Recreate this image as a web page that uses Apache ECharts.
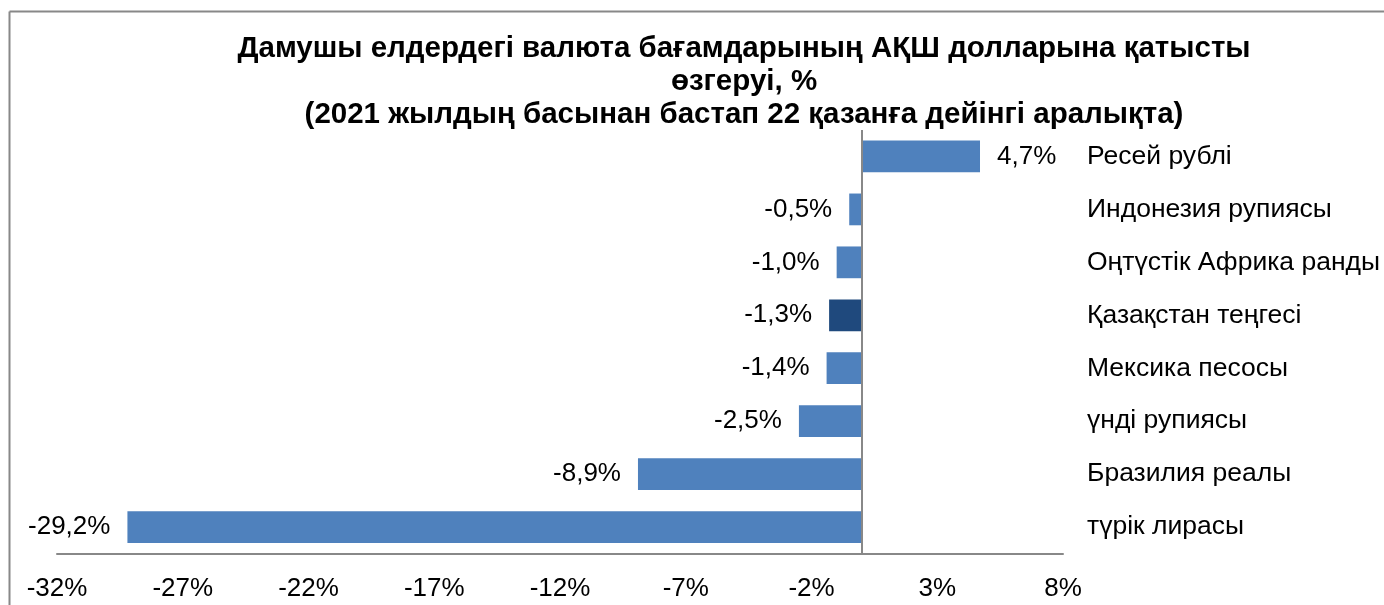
<!DOCTYPE html>
<html>
<head>
<meta charset="utf-8">
<script src="https://cdn.jsdelivr.net/npm/echarts@6/dist/echarts.min.js"></script>
<style>
html,body{margin:0;padding:0;background:#fff;}
#chart{width:1384px;height:605px;}
</style>
</head>
<body>
<div id="chart"></div>
<script>
const titleText = 'Дамушы елдердегі валюта бағамдарының АҚШ долларына қатысты\nөзгеруі, %\n(2021 жылдың басынан бастап 22 қазанға дейінгі аралықта)';
const categories = ['Ресей рублі','Индонезия рупиясы','Оңтүстік Африка ранды','Қазақстан теңгесі','Мексика песосы','үнді рупиясы','Бразилия реалы','түрік лирасы'];
const values = [4.7, -0.5, -1.0, -1.3, -1.4, -2.5, -8.9, -29.2];
const highlighted = 'Қазақстан теңгесі';
const tickValues = [-32, -27, -22, -17, -12, -7, -2, 3, 8];

const FONT = 'Liberation Sans, Arial, sans-serif';
const chart = echarts.init(document.getElementById('chart'), null, {renderer:'canvas'});
chart.setOption({
  animation: false,
  backgroundColor: '#fff',
  title: {
    text: titleText,
    left: 739, top: 27, textAlign: 'center',
    textStyle: {fontFamily: FONT, fontWeight: 'bold', fontSize: 29.5, lineHeight: 33, color: '#000'}
  },
  graphic: [
    {type:'line', shape:{x1:9.5, y1:11.5, x2:1384, y2:11.5}, style:{stroke:'#888', lineWidth:2}},
    {type:'line', shape:{x1:9.5, y1:11.5, x2:9.5, y2:605}, style:{stroke:'#888', lineWidth:2}}
  ],
  grid: {left: 57, right: 321, top: 130, bottom: 51.5, containLabel: false},
  xAxis: {
    type: 'value', min: -32, max: 8,
    splitLine: {show: false},
    axisTick: {show: false},
    axisLine: {show: true, onZero: false, lineStyle: {color: '#888', width: 2}},
    axisLabel: {
      customValues: tickValues,
      margin: 22,
      fontFamily: FONT, fontSize: 26, color: '#000',
      formatter: v => v + '%'
    }
  },
  yAxis: {
    type: 'category', data: categories, inverse: true, position: 'right',
    axisLine: {show: false}, axisTick: {show: false},
    axisLabel: {margin: 24, fontFamily: FONT, fontSize: 26.5, color: '#000'}
  },
  series: [{
    type: 'bar',
    barCategoryGap: '40%',
    data: values.map((v, i) => ({
      value: v,
      itemStyle: {color: categories[i] === highlighted ? '#1F497D' : '#4F81BD'},
      label: {position: v >= 0 ? 'right' : 'left'}
    })),
    label: {
      show: true, distance: 17,
      fontFamily: FONT, fontSize: 26, color: '#000',
      formatter: p => p.value.toFixed(1).replace('.', ',') + '%'
    },
    markLine: {
      silent: true,
      symbol: 'none',
      label: {show: false},
      lineStyle: {color: '#888', width: 2, type: 'solid'},
      data: [{xAxis: 0}]
    }
  }]
});
</script>
</body>
</html>
